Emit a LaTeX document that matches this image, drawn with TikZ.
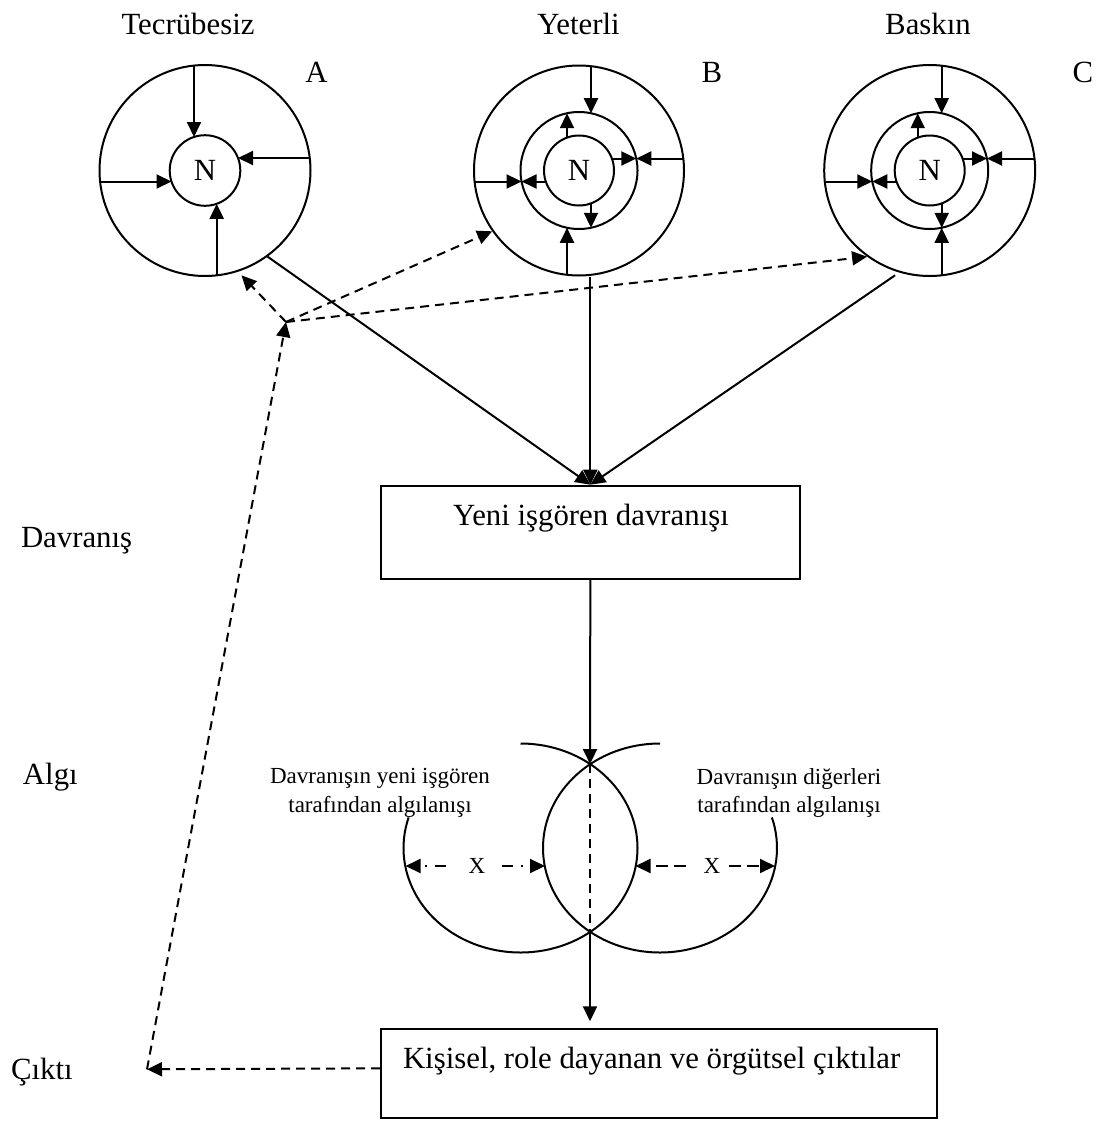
\documentclass[tikz,border=0pt]{standalone}
\usepackage{fontspec}
\setmainfont{Liberation Serif}
\usetikzlibrary{arrows.meta,calc}
\begin{document}
\begin{tikzpicture}[x=1pt,y=1pt,line width=2pt,
  arr/.style={-{Triangle[length=15pt,width=14pt]}},
  dsh/.style={dash pattern=on 9pt off 6pt},
  big/.style={font=\fontsize{30.8}{36}\selectfont, inner sep=0pt},
  small/.style={font=\fontsize{23}{28.5}\selectfont, inner sep=0pt, align=center},
  ring/.style={circle, draw, inner sep=0pt, minimum size=#1},
  box/.style={draw, rectangle, inner sep=0pt}]
\fill[white] (0,0) rectangle (1104,-1122);
\useasboundingbox (0,0) rectangle (1104,-1122);

% ---- top labels
\node[big] (l1) at (188,-24) {Tecrübesiz};
\node[big] (l2) at (578.5,-24) {Yeterli};
\node[big] (l3) at (928,-24) {Baskın};
\node[big] (la) at (316.5,-72) {A};
\node[big] (lb) at (712,-72) {B};
\node[big] (lc) at (1083,-72) {C};

% ---- circle A
\node[ring=211pt] (Ao) at (205,-170.5) {};
\node[ring=70.6pt, big] (An) at (205,-170.5) {N};
\draw[arr] ($(Ao.center)+(-11,104.9)$) -- ($(Ao.center)+(-11,33.5)$);
\draw[arr] ($(Ao.center)+(104.8,12.5)$) -- ($(Ao.center)+(33.0,12.5)$);
\draw[arr] ($(Ao.center)+(-104.9,-11)$) -- ($(Ao.center)+(-33.5,-11)$);
\draw[arr] ($(Ao.center)+(11.7,-104.85)$) -- ($(Ao.center)+(11.7,-33.3)$);

% ---- circle B
\node[ring=210pt] (Bo) at (579,-170.5) {};
\node[ring=117pt] (Bm) at (579,-170.5) {};
\node[ring=70pt, big] (Bn) at (579,-170.5) {N};
\draw[arr] ($(Bo.center)+(12,104.3)$) -- ($(Bo.center)+(12,57.3)$);
\draw[arr] ($(Bo.center)+(104.3,12)$) -- ($(Bo.center)+(57.3,12)$);
\draw[arr] ($(Bo.center)+(-104.4,-11)$) -- ($(Bo.center)+(-57.45,-11)$);
\draw[arr] ($(Bo.center)+(-12,-104.3)$) -- ($(Bo.center)+(-12,-57.3)$);
\draw[arr] ($(Bo.center)+(-12,32.9)$) -- ($(Bo.center)+(-12,57.3)$);
\draw[arr] ($(Bo.center)+(32.9,12)$) -- ($(Bo.center)+(57.3,12)$);
\draw[arr] ($(Bo.center)+(-33.2,-11)$) -- ($(Bo.center)+(-57.45,-11)$);
\draw[arr] ($(Bo.center)+(12,-32.9)$) -- ($(Bo.center)+(12,-57.3)$);

% ---- circle C
\node[ring=211pt] (Co) at (929.7,-170.5) {};
\node[ring=117pt] (Cm) at (929.7,-170.5) {};
\node[ring=70pt, big] (Cn) at (929.7,-170.5) {N};
\draw[arr] ($(Co.center)+(12,104.3)$) -- ($(Co.center)+(12,57.3)$);
\draw[arr] ($(Co.center)+(104.3,12)$) -- ($(Co.center)+(57.3,12)$);
\draw[arr] ($(Co.center)+(-104.4,-11)$) -- ($(Co.center)+(-57.45,-11)$);
\draw[arr] ($(Co.center)+(12,-104.3)$) -- ($(Co.center)+(12,-57.3)$);
\draw[arr] ($(Co.center)+(-12,32.9)$) -- ($(Co.center)+(-12,57.3)$);
\draw[arr] ($(Co.center)+(32.9,12)$) -- ($(Co.center)+(57.3,12)$);
\draw[arr] ($(Co.center)+(-33.2,-11)$) -- ($(Co.center)+(-57.45,-11)$);
\draw[arr] ($(Co.center)+(12,-32.9)$) -- ($(Co.center)+(12,-57.3)$);

% ---- left labels
\node[big, anchor=west] (d1) at (20,-541) {Davranış};
\node[big, anchor=west] (d2) at (22,-777) {Algı};
\node[big, anchor=west] (d3) at (10,-1072) {Çıktı};

% ---- box 1
\node[box, minimum width=419.3pt, minimum height=93.3pt] (box1) at (590.35,-532.35) {};
\node[big, anchor=base] (t1) at (591,-525) {Yeni işgören davranışı};

\draw[arr] (Ao.-54) -- (box1.north);
\draw[arr] (box1.north |- Bo.south) -- (box1.north);
\draw[arr] ($(Co.center)+(-108.3:110.4)$) -- (box1.north);

% ---- perception
\coordinate (ti) at (590,-764);
\coordinate (bi) at (590,-932);
\draw (520.5,-743.5) arc[start angle=90, end angle=-197, x radius=117, y radius=104.5];
\draw (660,-743.5) arc[start angle=90, end angle=377, x radius=117, y radius=104.5];
\draw[arr] (box1.south) -- (ti);
\draw[dsh] (ti) -- (bi);

\node[small] (p1) at (380,-793) {Davranışın yeni işgören\\tarafından algılanışı};
\node[small] (p2) at (789,-793) {Davranışın diğerleri\\tarafından algılanışı};
\node[small] (x1) at (477,-866) {X};
\node[small] (x2) at (712,-866) {X};
\draw[arr, dash pattern=on 11pt off 8pt on 2pt off 20pt] (446,-866) -- (405.5,-866);
\draw[arr, dash pattern=on 11pt off 8pt on 2pt off 20pt] (502,-866) -- (545,-866);
\draw[arr, dash pattern=on 12pt off 6pt] (686,-866) -- (635.5,-866);
\draw[arr, dash pattern=on 12pt off 6pt] (729,-866) -- (775,-866);

% ---- box 2
\node[box, minimum width=556pt, minimum height=88.7pt] (box2) at (659,-1073.65) {};
\node[big, anchor=base west] (t2) at (402,-1068.3) {Kişisel, role dayanan ve örgütsel çıktılar};
\draw[arr, shorten >=7pt] (bi) -- (bi |- box2.north);

% ---- dashed feedback
\coordinate (lo) at (147,-1069.3);
\coordinate (jn) at (286,-322);
\draw[arr, dsh] ($(box2.north west)+(0,-40)$) -- (lo);
\draw[arr, dsh] (lo) -- (jn);
\draw[arr, dsh] (jn) -- ($(Ao.center)+(-70.8:111)$);
\draw[arr, dsh] (jn) -- (Bo.-145);
\draw[arr, dsh] (jn) -- (Co.-126.6);
\end{tikzpicture}
\end{document}
